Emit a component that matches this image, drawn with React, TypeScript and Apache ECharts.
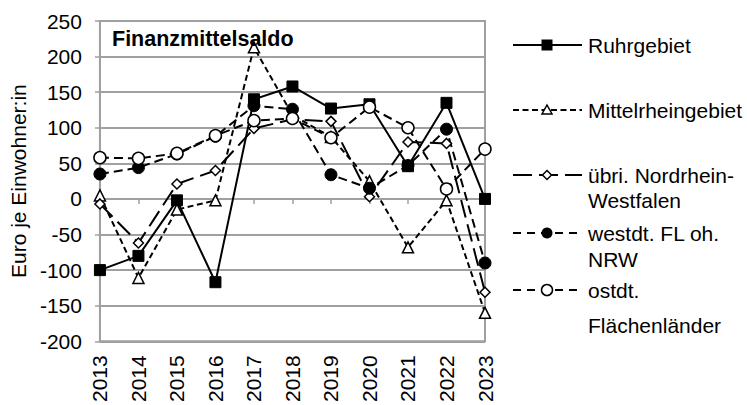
import React, { useEffect, useRef } from "react";
import * as echarts from "echarts";

const years = ["2013", "2014", "2015", "2016", "2017", "2018", "2019", "2020", "2021", "2022", "2023"];
const ruhrgebiet = [-100, -80, -2, -117, 140, 158, 127, 133, 46, 135, 0];
const mittelrheingebiet = [5, -111, -15, -2, 213, 118, 87, 25, -68, -2, -160];
const uebrNRW = [-7, -62, 21, 40, 99, 112, 109, 3, 80, 78, -131];
const westdtFL = [35, 44, 63, 88, 131, 126, 34, 15, 47, 98, -90];
const ostdtFL = [58, 57, 64, 89, 110, 113, 86, 129, 100, 14, 70];
const yTicks = { min: -200, max: 250, interval: 50 };

const FONT = '"Liberation Sans", Arial, sans-serif';
const FS = 21;
const GRID = "#a0a0a0";

export default function App() {
  const ref = useRef<HTMLDivElement>(null);
  useEffect(() => {
    document.body.style.margin = "0";
    const chart = echarts.init(ref.current!, null, { renderer: "svg" });

    const hollow = { color: "#fff", borderColor: "#000", borderWidth: 1.5 };
    const filled = { color: "#000", borderColor: "#000", borderWidth: 1 };

    const series: any[] = [
      {
        name: "Ruhrgebiet",
        data: ruhrgebiet,
        symbol: "rect",
        symbolSize: 11,
        lineStyle: { color: "#000", width: 2, type: "solid" },
        itemStyle: filled,
      },
      {
        name: "Mittelrheingebiet",
        data: mittelrheingebiet,
        symbol: "triangle",
        symbolSize: 11,
        lineStyle: { color: "#000", width: 2, type: [6, 3.5] },
        itemStyle: hollow,
      },
      {
        name: "übri. Nordrhein-Westfalen",
        data: uebrNRW,
        symbol: "diamond",
        symbolSize: 10,
        lineStyle: { color: "#000", width: 2, type: [18, 7] },
        itemStyle: hollow,
      },
      {
        name: "westdt. FL oh. NRW",
        data: westdtFL,
        symbol: "circle",
        symbolSize: 12,
        lineStyle: { color: "#000", width: 2, type: [9, 5] },
        itemStyle: filled,
      },
      {
        name: "ostdt. Flächenländer",
        data: ostdtFL,
        symbol: "circle",
        symbolSize: 12,
        lineStyle: { color: "#000", width: 2, type: [9, 5] },
        itemStyle: hollow,
      },
    ].map((s) => ({ ...s, type: "line", xAxisIndex: 0, yAxisIndex: 0, showAllSymbol: true }));

    // Legend drawn with graphic elements
    const lx1 = 513, lx2 = 582, mx = 547, tx = 588;
    const legendY = [45, 110, 175, 233, 290];
    const legendTexts: [string, string | null, number][] = [
      ["Ruhrgebiet", null, 0],
      ["Mittelrheingebiet", null, 0],
      ["übri. Nordrhein-", "Westfalen", 25],
      ["westdt. FL oh.", "NRW", 26],
      ["ostdt.", "Flächenländer", 35],
    ];
    const legendDash: (number[] | null)[] = [null, [6, 3.5], [19, 7], [8, 6], [8, 6]];
    const graphics: any[] = [];
    legendY.forEach((y, i) => {
      graphics.push({
        type: "line",
        shape: { x1: lx1, y1: y, x2: lx2, y2: y },
        style: { stroke: "#000", lineWidth: 2, lineDash: legendDash[i] || undefined },
        z: 10,
      });
      const t = legendTexts[i];
      graphics.push({
        type: "text",
        x: tx,
        y: y,
        style: { text: t[0], fontSize: FS, fontFamily: FONT, fill: "#000", align: "left", verticalAlign: "middle" },
        z: 10,
      });
      if (t[1]) {
        graphics.push({
          type: "text",
          x: tx,
          y: y + t[2],
          style: { text: t[1], fontSize: FS, fontFamily: FONT, fill: "#000", align: "left", verticalAlign: "middle" },
          z: 10,
        });
      }
    });
    // legend markers
    graphics.push({ type: "rect", shape: { x: mx - 5.5, y: legendY[0] - 5.5, width: 11, height: 11 }, style: { fill: "#000" }, z: 11 });
    graphics.push({
      type: "polygon",
      shape: { points: [[mx, legendY[1] - 5], [mx + 5, legendY[1] + 4], [mx - 5, legendY[1] + 4]] },
      style: { fill: "#fff", stroke: "#000", lineWidth: 1.5 },
      z: 11,
    });
    graphics.push({
      type: "polygon",
      shape: { points: [[mx, legendY[2] - 4.5], [mx + 4.5, legendY[2]], [mx, legendY[2] + 4.5], [mx - 4.5, legendY[2]]] },
      style: { fill: "#fff", stroke: "#000", lineWidth: 1.5 },
      z: 11,
    });
    graphics.push({ type: "circle", shape: { cx: mx, cy: legendY[3], r: 5.5 }, style: { fill: "#000" }, z: 11 });
    graphics.push({ type: "circle", shape: { cx: mx, cy: legendY[4], r: 5.5 }, style: { fill: "#fff", stroke: "#000", lineWidth: 1.5 }, z: 11 });

    // Title
    graphics.push({
      type: "text",
      x: 112,
      y: 38.5,
      style: { text: "Finanzmittelsaldo", fontSize: 21.5, fontWeight: "bold", fontFamily: FONT, fill: "#000", align: "left", verticalAlign: "middle" },
      z: 10,
    });

    chart.setOption({
      animation: false,
      backgroundColor: "#fff",
      grid: { left: 97, top: 21, width: 388, height: 326, show: true, borderColor: GRID, borderWidth: 2, backgroundColor: "transparent" },
      xAxis: [
        {
          type: "category",
          data: years,
          boundaryGap: false,
          position: "bottom",
          axisLine: { show: false, onZero: false },
          axisTick: { show: false },
          axisLabel: { rotate: 90, fontSize: FS, fontFamily: FONT, color: "#000", margin: 14, interval: 0 },
          splitLine: { show: false },
        },
        {
          type: "category",
          data: years,
          boundaryGap: false,
          position: "bottom",
          axisLine: { show: true, onZero: true, lineStyle: { color: GRID, width: 2 } },
          axisTick: { show: true, length: 5, interval: 0, lineStyle: { color: GRID, width: 1.5 } },
          axisLabel: { show: false },
          splitLine: { show: false },
        },
      ],
      yAxis: {
        type: "value",
        min: yTicks.min,
        max: yTicks.max,
        interval: yTicks.interval,
        name: "Euro je Einwohner:in",
        nameLocation: "middle",
        nameRotate: 90,
        nameGap: 68,
        nameTextStyle: { fontSize: FS, fontFamily: FONT, color: "#000" },
        axisLine: { show: true, lineStyle: { color: GRID, width: 2 } },
        axisTick: { show: true, length: 5, lineStyle: { color: GRID, width: 1.5 } },
        axisLabel: { fontSize: FS, fontFamily: FONT, color: "#000", margin: 18 },
        splitLine: { show: true, lineStyle: { color: GRID, width: 2 } },
      },
      series,
      graphic: graphics,
    });
    return () => chart.dispose();
  }, []);
  return <div ref={ref} style={{ position: "absolute", left: 0, top: 0, width: 747, height: 405 }} />;
}
